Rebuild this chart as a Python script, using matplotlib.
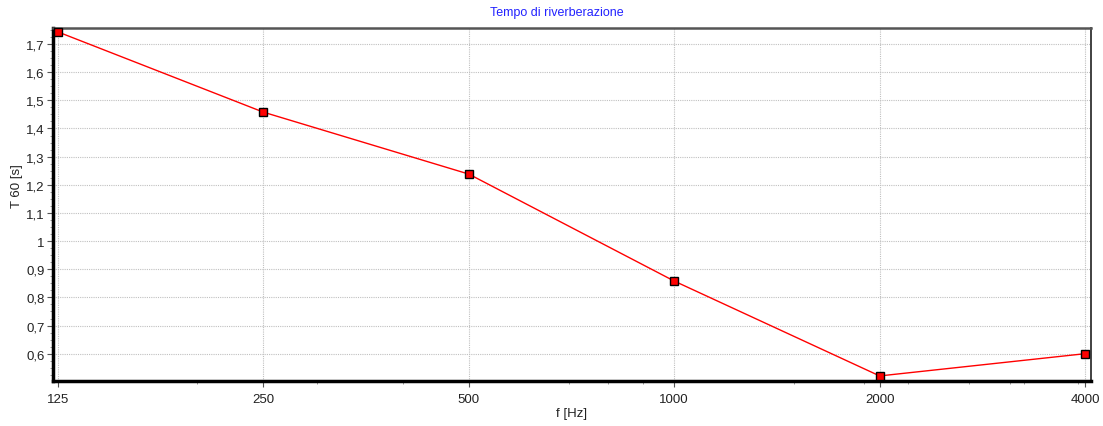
import matplotlib
matplotlib.use("Agg")
import matplotlib.pyplot as plt
from matplotlib.ticker import FixedLocator, MultipleLocator, FuncFormatter, NullFormatter

freq = [125, 250, 500, 1000, 2000, 4000]
t60 = [1.743, 1.458, 1.238, 0.858, 0.521, 0.600]
xticks = [125, 250, 500, 1000, 2000, 4000]
xminor = [200, 300, 400, 700, 800, 900, 1500, 1900, 2200, 2700, 3100, 3250, 3900]

plt.rcParams.update({"font.family": ["Liberation Sans", "DejaVu Sans"], "font.size": 9})


def comma(v, p):
    s = f"{v:.1f}".replace(".", ",")
    return "1" if abs(v - 1) < 1e-9 else s


fig = plt.figure(figsize=(11.03, 4.27), dpi=100)
ax = fig.add_axes([53 / 1103, 1 - 382 / 427, (1091 - 53) / 1103, (382 - 29) / 427])

ax.plot(freq, t60, color="red", lw=1, marker="s", ms=6, mfc="red", mec="black", mew=1, zorder=5,
        clip_on=False)
ax.set_xscale("log")
ax.set_xlim(122.9, 4081)
ax.set_ylim(0.503, 1.757)

ax.xaxis.set_major_locator(FixedLocator(xticks))
ax.xaxis.set_major_formatter(FuncFormatter(lambda v, p: f"{v:g}"))
ax.xaxis.set_minor_locator(FixedLocator(xminor))
ax.xaxis.set_minor_formatter(NullFormatter())
ax.yaxis.set_major_locator(MultipleLocator(0.1))
ax.yaxis.set_minor_locator(MultipleLocator(0.025))
ax.yaxis.set_major_formatter(FuncFormatter(comma))

ax.tick_params(axis="both", which="major", length=4, width=0.8, color="#555555", labelsize=9.5,
               labelcolor="#222222", direction="out")
ax.tick_params(axis="both", which="minor", length=2.5, width=0.6, color="#888888", direction="out")
ax.tick_params(axis="x", pad=5)
ax.tick_params(axis="y", pad=2)

ax.grid(True, which="major", color="#c0c0c0", ls=(0, (1, 1)), lw=0.8)

ax.spines["left"].set_linewidth(2.5)
ax.spines["left"].set_color("black")
ax.spines["bottom"].set_linewidth(2.5)
ax.spines["bottom"].set_color("black")
ax.spines["top"].set_linewidth(1.8)
ax.spines["top"].set_color("#555555")
ax.spines["right"].set_linewidth(1.3)
ax.spines["right"].set_color("#333333")

fig.text(0.505, 1 - 13 / 427, "Tempo di riverberazione", color="#2222ff", fontsize=9,
         ha="center", va="center")
fig.text(572 / 1103, 1 - 414 / 427, "f [Hz]", color="#222222", fontsize=9.5, ha="center", va="center")
fig.text(17 / 1103, 1 - 186 / 427, "T 60 [s]", color="#222222", fontsize=9.5, ha="center", va="center",
         rotation=90)

fig.savefig("out.png", dpi=100)
